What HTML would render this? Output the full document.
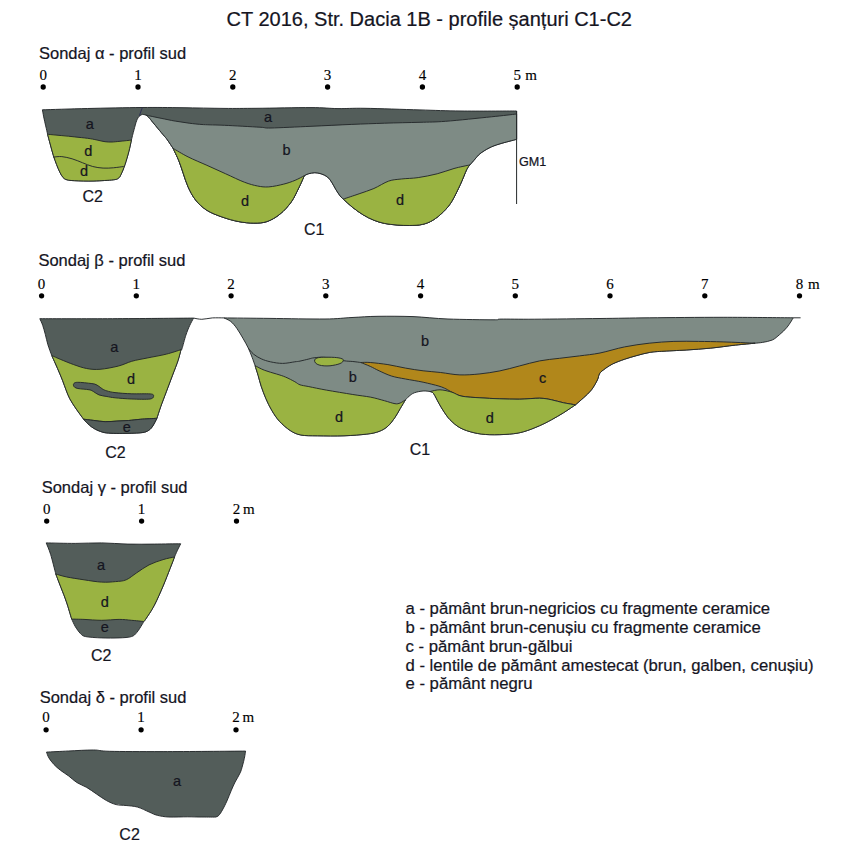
<!DOCTYPE html>
<html><head><meta charset="utf-8"><title>CT 2016 profile</title>
<style>html,body{margin:0;padding:0;background:#fff;} svg{display:block;} text{fill:#15151f;stroke:#15151f;stroke-width:0.22px;} .sf{font-family:"Liberation Serif","Times New Roman",serif;stroke-width:0.15px;fill:#000;stroke:#000;}</style></head>
<body><svg width="853" height="853" viewBox="0 0 853 853">
<rect width="853" height="853" fill="#fff"/>
<path d="M42.4,109.8 C49.9,109.6 71,108.9 87.6,108.5 C104.2,108.1 126.3,107.6 142,107.5 C157.7,107.4 168.3,107.5 182,107.7 C195.7,107.9 211.5,108.3 224,108.4 C236.5,108.5 242.5,108.4 257,108.3 C271.5,108.2 297.5,107.5 311,107.6 C324.5,107.6 329,108.5 338,108.6 C347,108.7 351.3,108.1 365,108.3 C378.7,108.5 404,109.5 420,109.9 C436,110.4 444.9,110.8 461,111 C477.1,111.2 507.3,111 516.6,111 L516.6,139.3 C513.8,140.1 504.6,142.4 500,143.8 C495.4,145.2 492.3,146.3 489,148 C485.7,149.7 482.3,151.9 480,153.7 C477.7,155.5 476.8,157.1 475.1,159 C473.4,160.9 470.8,163.9 469.9,164.9 C469.4,165.7 468.3,166.3 466.7,169.5 C465.1,172.7 462.9,179 460.4,184.3 C457.9,189.6 454.7,196.6 451.9,201.2 C449.1,205.8 446.7,208.5 443.5,211.7 C440.3,214.9 436.4,218.1 432.9,220.2 C429.4,222.3 426.3,223.5 422.4,224.4 C418.5,225.3 413.9,225.4 409.7,225.5 C405.5,225.6 401.3,225.3 397.1,225 C392.9,224.7 388.3,224.2 384.4,223.4 C380.5,222.6 377.4,221.6 373.9,220.2 C370.4,218.8 366.8,217 363.3,214.9 C359.8,212.8 356.1,210.1 352.8,207.5 C349.5,204.9 344.9,200.5 343.3,199.1 C342.8,198.6 341.3,197.5 340.1,195.9 C338.9,194.3 337.3,191.9 335.9,189.6 C334.5,187.3 333.1,184.3 331.7,182.2 C330.3,180.1 329.2,178.3 327.4,176.9 C325.6,175.5 323.2,174.5 321.1,173.8 C319,173.1 316.9,172.7 314.8,172.7 C312.7,172.7 310.1,173.3 308.4,173.8 C306.6,174.3 305,175.4 304.3,175.7 C303.4,177.7 301,183.4 298.8,187.8 C296.6,192.2 294.4,197.5 291.3,201.9 C288.2,206.3 284.1,210.8 280,214.1 C275.9,217.4 271.3,220.1 266.9,221.6 C262.5,223.1 258.5,223.1 253.8,223.1 C249.1,223.1 244.1,222.6 238.8,221.6 C233.5,220.6 227.2,218.8 221.9,216.9 C216.6,215 211.3,213.1 206.9,210.3 C202.5,207.5 198.7,203.9 195.6,200 C192.5,196.1 190.1,191.3 188.1,186.9 C186.1,182.5 184.9,178.2 183.4,173.8 C181.9,169.4 180.5,164.8 178.8,160.6 C177.1,156.4 174.1,150.4 173.1,148.4 C172.2,147 168.9,142 167.5,140 C166.1,138 166.1,138.2 164.5,136.3 C162.9,134.4 160,131 158.1,128.7 C156.2,126.4 154.4,124.2 152.8,122.3 C151.2,120.4 149.9,118.4 148.7,117.2 C147.5,116 146.9,115.6 145.8,115.1 C144.7,114.6 142.9,114.5 142.3,114.4 C141.8,114.7 140.1,115.2 139.2,116.3 C138.2,117.4 137.5,118.5 136.6,120.8 C135.7,123 134.9,126.6 134,129.8 C133.1,133 131.8,138.4 131.4,140.1 C131,142 129.9,147.6 128.8,151.7 C127.7,155.8 126.3,160.8 125,164.6 C123.7,168.4 122.2,172.1 121.1,174.3 C120,176.6 119.8,177.2 118.5,178.1 C117.2,179 117.5,179.3 113.4,179.8 C109.3,180.3 100.5,180.8 94,181 C87.5,181.2 79.2,180.9 74.7,180.7 C70.2,180.5 68.9,180.3 67,179.8 C65.1,179.3 64.3,178.8 63.1,177.5 C61.9,176.2 61,174.5 59.9,172.3 C58.8,170.2 57.7,167.4 56.6,164.6 C55.5,161.8 54.5,159 53.4,155.6 C52.3,152.2 51.2,147.6 50.2,144 C49.2,140.4 48,135.9 47.6,134.3 C47.3,132.9 46.4,128.8 45.7,125.9 C45.1,123 44.2,119.6 43.7,116.9 C43.2,114.2 42.6,111 42.4,109.8 Z" fill="#535d5a" stroke="#25292b" stroke-width="0.95" stroke-linejoin="round"/>
<path d="M47.6,134.3 C50,134.5 57.3,135.2 61.8,135.6 C66.3,136 70.4,136.4 74.7,136.9 C79,137.4 83.9,137.8 87.6,138.3 C91.3,138.8 94.1,139.4 97,140 C99.9,140.6 102.5,141.4 105,141.7 C107.5,142 109.5,142.1 112,142 C114.5,141.9 116.8,141.6 120,141.3 C123.2,141 129.5,140.3 131.4,140.1 C131,142 129.9,147.6 128.8,151.7 C127.7,155.8 126.3,160.8 125,164.6 C123.7,168.4 122.2,172.1 121.1,174.3 C120,176.6 119.8,177.2 118.5,178.1 C117.2,179 117.5,179.3 113.4,179.8 C109.3,180.3 100.5,180.8 94,181 C87.5,181.2 79.2,180.9 74.7,180.7 C70.2,180.5 68.9,180.3 67,179.8 C65.1,179.3 64.3,178.8 63.1,177.5 C61.9,176.2 61,174.5 59.9,172.3 C58.8,170.2 57.7,167.4 56.6,164.6 C55.5,161.8 54.5,159 53.4,155.6 C52.3,152.2 51.2,147.6 50.2,144 C49.2,140.4 48,135.9 47.6,134.3 Z" fill="#9ab342" stroke="#25292b" stroke-width="0.95" stroke-linejoin="round"/>
<path d="M53.4,157.1 C54.8,157 58.7,156.3 61.8,156.6 C64.9,156.9 68.7,157.8 72.1,158.8 C75.5,159.8 79,161.4 82.4,162.7 C85.8,164 89.2,165.6 92.7,166.5 C96.2,167.4 99.6,167.9 103.1,168.1 C106.5,168.3 110,168.1 113.4,167.8 C116.8,167.5 122,166.7 123.7,166.5" fill="none" stroke="#25292b" stroke-width="0.95" stroke-linejoin="round"/>
<path d="M142.3,107.7 L139.4,115.6" stroke="#2b2d55" stroke-width="0.9" fill="none"/>
<path d="M145.8,115.1 C146.5,115.2 147.4,115.5 150,116 C152.6,116.5 156.9,117.5 161.1,118.3 C165.3,119.1 170.5,120.3 175.2,121.1 C179.9,121.9 184.5,122.6 189.2,123.2 C193.9,123.8 197.4,124.2 203.3,124.6 C209.2,124.9 215,124.9 224.4,125.3 C233.8,125.7 252.2,126.8 260,127.2 C267.8,127.7 262.5,128.2 271,128 C279.5,127.8 297.5,126.9 311,126.3 C324.5,125.7 339.6,124.9 351.8,124.4 C364.1,123.9 373.1,123.6 384.5,123.2 C395.9,122.8 409.8,122.6 420,122.3 C430.2,122 433.8,122.2 445.7,121.3 C457.6,120.4 479.7,118 491.5,116.8 C503.3,115.6 512.4,114.5 516.6,114 L516.6,139.3 C513.8,140.1 504.6,142.4 500,143.8 C495.4,145.2 492.3,146.3 489,148 C485.7,149.7 482.3,151.9 480,153.7 C477.7,155.5 476.8,157.1 475.1,159 C473.4,160.9 470.8,163.9 469.9,164.9 C469.4,165.7 468.3,166.3 466.7,169.5 C465.1,172.7 462.9,179 460.4,184.3 C457.9,189.6 454.7,196.6 451.9,201.2 C449.1,205.8 446.7,208.5 443.5,211.7 C440.3,214.9 436.4,218.1 432.9,220.2 C429.4,222.3 426.3,223.5 422.4,224.4 C418.5,225.3 413.9,225.4 409.7,225.5 C405.5,225.6 401.3,225.3 397.1,225 C392.9,224.7 388.3,224.2 384.4,223.4 C380.5,222.6 377.4,221.6 373.9,220.2 C370.4,218.8 366.8,217 363.3,214.9 C359.8,212.8 356.1,210.1 352.8,207.5 C349.5,204.9 344.9,200.5 343.3,199.1 C342.8,198.6 341.3,197.5 340.1,195.9 C338.9,194.3 337.3,191.9 335.9,189.6 C334.5,187.3 333.1,184.3 331.7,182.2 C330.3,180.1 329.2,178.3 327.4,176.9 C325.6,175.5 323.2,174.5 321.1,173.8 C319,173.1 316.9,172.7 314.8,172.7 C312.7,172.7 310.1,173.3 308.4,173.8 C306.6,174.3 305,175.4 304.3,175.7 C303.4,177.7 301,183.4 298.8,187.8 C296.6,192.2 294.4,197.5 291.3,201.9 C288.2,206.3 284.1,210.8 280,214.1 C275.9,217.4 271.3,220.1 266.9,221.6 C262.5,223.1 258.5,223.1 253.8,223.1 C249.1,223.1 244.1,222.6 238.8,221.6 C233.5,220.6 227.2,218.8 221.9,216.9 C216.6,215 211.3,213.1 206.9,210.3 C202.5,207.5 198.7,203.9 195.6,200 C192.5,196.1 190.1,191.3 188.1,186.9 C186.1,182.5 184.9,178.2 183.4,173.8 C181.9,169.4 180.5,164.8 178.8,160.6 C177.1,156.4 174.1,150.4 173.1,148.4 C172.2,147 168.9,142 167.5,140 C166.1,138 166.1,138.2 164.5,136.3 C162.9,134.4 160,131 158.1,128.7 C156.2,126.4 154.4,124.2 152.8,122.3 C151.2,120.4 149.9,118.4 148.7,117.2 C147.5,116 146.3,115.4 145.8,115.1 Z" fill="#7e8b85" stroke="#25292b" stroke-width="0.95" stroke-linejoin="round"/>
<path d="M173.1,148.4 C175.6,149.8 182.5,154.1 188.1,156.9 C193.7,159.7 200.6,162.5 206.9,165.3 C213.2,168.1 219.4,171 225.7,173.8 C231.9,176.6 239.1,180.2 244.4,182.2 C249.7,184.2 253.4,185.2 257.5,186 C261.6,186.8 264.4,187.2 268.8,186.9 C273.2,186.6 279.4,185.2 283.8,184.1 C288.2,183 291.7,181.7 295.1,180.3 C298.5,178.9 302.8,176.5 304.3,175.7 C303.4,177.7 301,183.4 298.8,187.8 C296.6,192.2 294.4,197.5 291.3,201.9 C288.2,206.3 284.1,210.8 280,214.1 C275.9,217.4 271.3,220.1 266.9,221.6 C262.5,223.1 258.5,223.1 253.8,223.1 C249.1,223.1 244.1,222.6 238.8,221.6 C233.5,220.6 227.2,218.8 221.9,216.9 C216.6,215 211.3,213.1 206.9,210.3 C202.5,207.5 198.7,203.9 195.6,200 C192.5,196.1 190.1,191.3 188.1,186.9 C186.1,182.5 184.9,178.2 183.4,173.8 C181.9,169.4 180.5,164.8 178.8,160.6 C177.1,156.4 174.1,150.4 173.1,148.4 Z" fill="#9ab342" stroke="#25292b" stroke-width="0.95" stroke-linejoin="round"/>
<path d="M343.3,199.1 C345.9,198.2 354,195.6 359.1,193.8 C364.2,192 369,190.6 373.9,188.5 C378.8,186.4 384,182.7 388.6,181.1 C393.2,179.5 396.4,179.6 401.3,179 C406.2,178.4 412.2,178.5 418.2,177.6 C424.2,176.7 431.2,175.3 437.2,173.8 C443.2,172.3 448.6,170 454,168.5 C459.4,167 467.2,165.5 469.9,164.9 C469.4,165.7 468.3,166.3 466.7,169.5 C465.1,172.7 462.9,179 460.4,184.3 C457.9,189.6 454.7,196.6 451.9,201.2 C449.1,205.8 446.7,208.5 443.5,211.7 C440.3,214.9 436.4,218.1 432.9,220.2 C429.4,222.3 426.3,223.5 422.4,224.4 C418.5,225.3 413.9,225.4 409.7,225.5 C405.5,225.6 401.3,225.3 397.1,225 C392.9,224.7 388.3,224.2 384.4,223.4 C380.5,222.6 377.4,221.6 373.9,220.2 C370.4,218.8 366.8,217 363.3,214.9 C359.8,212.8 356.1,210.1 352.8,207.5 C349.5,204.9 344.9,200.5 343.3,199.1 Z" fill="#9ab342" stroke="#25292b" stroke-width="0.95" stroke-linejoin="round"/>
<path d="M516.6,111 L516.6,204" stroke="#25292b" stroke-width="1" fill="none"/>
<path d="M39.8,318.7 C51.9,318.7 86.8,318.8 112.4,318.7 C138,318.6 180.1,318.2 193.6,318.1 C192.9,319.3 191,322.7 189.7,325.5 C188.4,328.3 187.2,331.2 185.9,335.1 C184.6,339 182.8,346.3 182,348.7 C181.2,351.1 181.2,349.5 181,349.7 C180.5,351.5 179.5,355.9 178.1,360.3 C176.7,364.7 174.2,370.7 172.3,375.8 C170.4,380.9 168.4,386.1 166.5,391.2 C164.6,396.3 162.3,402.2 160.7,406.7 C159.1,411.2 157.5,416.4 156.9,418.3 C156.1,419.8 153.7,424.9 152.1,427 C150.5,429.1 149.4,430.1 147.4,431.1 C145.4,432.1 144.4,432.4 140.3,432.8 C136.2,433.2 127.7,433.3 122.8,433.4 C117.9,433.5 114.3,433.4 111,433.2 C107.7,433 105.7,433 102.8,432.2 C99.9,431.4 96.1,429.8 93.4,428.1 C90.7,426.5 88,423.8 86.4,422.3 C84.8,420.8 84.1,419.7 83.6,419.2 C82.4,417.5 78.6,412.5 76.3,409.1 C74,405.7 71.5,402 69.8,398.8 C68.1,395.6 67.2,392.8 66,389.8 C64.8,386.8 63.8,383.6 62.7,380.8 C61.6,378 60.7,375.8 59.5,373 C58.3,370.2 56.9,366.9 55.6,364 C54.3,361.1 52.4,357 51.8,355.6 C51.1,353.8 49,348.2 47.9,344.7 C46.8,341.1 46.2,337.5 45.3,334.3 C44.4,331.1 43.6,327.9 42.7,325.3 C41.8,322.7 40.3,319.8 39.8,318.7 Z" fill="#535d5a" stroke="#25292b" stroke-width="0.95" stroke-linejoin="round"/>
<path d="M51.8,355.6 C53.3,356.2 57.1,358 60.8,359.5 C64.5,361 69.4,363.1 73.7,364.6 C78,366.1 82.2,367.7 86.6,368.5 C91,369.3 94.7,369.7 100,369.3 C105.3,368.9 112.9,367.4 118.2,366.1 C123.5,364.8 126.9,362.7 131.7,361.3 C136.5,359.9 141.4,359.2 147.2,358 C153,356.8 160.9,355.5 166.5,354.1 C172.1,352.7 178.6,350.4 181,349.7 C180.5,351.5 179.5,355.9 178.1,360.3 C176.7,364.7 174.2,370.7 172.3,375.8 C170.4,380.9 168.4,386.1 166.5,391.2 C164.6,396.3 162.3,402.2 160.7,406.7 C159.1,411.2 157.5,416.4 156.9,418.3 C154.1,418.5 145,418.9 140.3,419.3 C135.6,419.7 132.5,420.2 128.6,420.5 C124.7,420.8 120.8,420.9 116.9,421.1 C113,421.3 109.1,421.8 105.2,421.7 C101.3,421.6 97,420.8 93.4,420.4 C89.8,420 85.2,419.4 83.6,419.2 C82.4,417.5 78.6,412.5 76.3,409.1 C74,405.7 71.5,402 69.8,398.8 C68.1,395.6 67.2,392.8 66,389.8 C64.8,386.8 63.8,383.6 62.7,380.8 C61.6,378 60.7,375.8 59.5,373 C58.3,370.2 56.9,366.9 55.6,364 C54.3,361.1 52.4,357 51.8,355.6 Z" fill="#9ab342" stroke="#25292b" stroke-width="0.95" stroke-linejoin="round"/>
<path d="M83.6,419.2 C85.2,419.4 89.8,420 93.4,420.4 C97,420.8 101.3,421.6 105.2,421.7 C109.1,421.8 113,421.3 116.9,421.1 C120.8,420.9 124.7,420.8 128.6,420.5 C132.5,420.2 135.6,419.7 140.3,419.3 C145,418.9 154.1,418.5 156.9,418.3 C156.1,419.8 153.7,424.9 152.1,427 C150.5,429.1 149.4,430.1 147.4,431.1 C145.4,432.1 144.4,432.4 140.3,432.8 C136.2,433.2 127.7,433.3 122.8,433.4 C117.9,433.5 114.3,433.4 111,433.2 C107.7,433 105.7,433 102.8,432.2 C99.9,431.4 96.1,429.8 93.4,428.1 C90.7,426.5 88,423.8 86.4,422.3 C84.8,420.8 84.1,419.7 83.6,419.2 Z" fill="#535d5a" stroke="#25292b" stroke-width="0.95" stroke-linejoin="round"/>
<path d="M73.4,384.6 C73.5,383.8 74.1,383 75.3,382.6 C76.5,382.2 78.3,382.3 80.5,382.4 C82.7,382.5 86.1,382.9 88.5,383.2 C90.9,383.5 93,383.6 94.8,384.1 C96.5,384.6 97.7,385.6 99,386.4 C100.3,387.2 101.4,388.4 102.7,389.1 C104,389.9 104.9,390.3 106.9,390.9 C109,391.5 110.8,392.1 115,392.6 C119.2,393.1 126,393.6 131.8,393.8 C137.6,394 146.4,393.6 150,393.9 C153.6,394.2 153.6,394.9 153.6,395.8 C153.6,396.7 153.6,398.5 150,399 C146.4,399.5 137.6,399.2 131.8,399 C126,398.8 119.2,398.2 115.1,397.8 C110.9,397.4 109.6,397 106.9,396.5 C104.2,396 101.2,395.7 99,394.9 C96.8,394.1 95.2,392.5 93.7,391.7 C92.2,390.9 91.8,390.3 90,389.9 C88.2,389.5 85.2,389.3 83.2,389.1 C81.2,388.9 79.3,388.8 77.9,388.5 C76.5,388.2 75.3,387.8 74.6,387.2 C73.8,386.6 73.3,385.4 73.4,384.6 Z" fill="#535d5a" stroke="#25292b" stroke-width="0.95"/>
<path d="M193.6,318.1 C195,318.3 198.7,319.3 201.8,319.3 C204.9,319.3 208.7,318.1 212.4,317.9 C216.1,317.7 222,317.9 223.9,317.9" fill="none" stroke="#25292b" stroke-width="0.95" stroke-linejoin="round"/>
<path d="M223.9,317.9 C231.6,318 253.2,318.2 270,318.4 C286.9,318.6 311.3,319.1 325,319 C338.7,318.9 343.2,317.9 352,317.5 C360.8,317.1 367.8,316.4 378,316.3 C388.2,316.2 401.3,316.2 413,316.6 C424.7,317.1 434.5,318.5 448,319 C461.5,319.5 485.2,319.8 494,319.8 C502.8,319.8 494.2,319.2 501,319.1 C507.8,319 518.3,319.3 534.8,319.2 C551.3,319.1 580.9,318.7 600,318.5 C619.1,318.3 628.7,318 649.2,317.8 C669.7,317.6 699.1,317.3 723.1,317.3 C747.1,317.3 781.6,317.7 793.3,317.8 C792.3,319.4 789.4,324.4 787.1,327.2 C784.8,330 782.2,332.4 779.7,334.5 C777.2,336.6 775.2,338.7 772.3,340 C769.4,341.3 765.4,341.9 762.5,342.4 C759.6,342.9 756.3,343.1 755.1,343.2 C751.8,343.5 742.8,344.3 735.4,345.1 C728,345.9 719,347.3 710.8,348.1 C702.6,348.9 694.4,349.5 686.2,350 C678,350.5 667.7,350.9 661.5,351.3 C655.3,351.7 653.3,351.8 649.2,352.5 C645.1,353.2 641,354.4 636.9,355.5 C632.8,356.6 628.7,357.8 624.6,359.2 C620.5,360.6 615.8,362.3 612.3,364.1 C608.8,365.9 605.5,368.3 603.4,369.9 C601.2,371.5 600.4,372.2 599.4,373.9 C598.4,375.6 598.7,377.2 597.4,379.9 C596.1,382.5 593.8,386.8 591.5,389.8 C589.2,392.8 586.2,395.3 583.5,397.8 C580.8,400.3 576.8,403.6 575.5,404.8 C573.5,406.1 567.6,410.2 563.6,412.7 C559.6,415.2 555.6,417.5 551.6,419.7 C547.6,421.9 544.2,423.7 539.6,425.7 C535,427.7 528.7,430.3 523.7,431.7 C518.7,433.1 515.4,433.6 509.7,434.1 C504,434.6 495.8,434.9 489.8,434.7 C483.8,434.5 478.9,433.9 473.9,432.7 C468.9,431.5 463.9,429.9 459.9,427.7 C455.9,425.5 452.6,422.3 450,419.7 C447.4,417.1 446.1,414.8 444.2,412.1 C442.3,409.4 440.7,406.4 438.9,403.3 C437.1,400.2 435.1,395.6 433.6,393.6 C432.1,391.6 430.7,391.9 430.1,391.5 C428.9,391.4 425.7,390.8 423.1,391 C420.5,391.2 416.7,391.9 414.3,392.8 C411.9,393.7 410.5,395.1 409,396.3 C407.5,397.5 406.1,399.2 405.5,399.8 C404.6,401.3 401.9,405.7 400.2,408.6 C398.4,411.5 397.1,414.5 395,417.4 C392.9,420.3 390.5,423.9 387.9,426.2 C385.2,428.5 382.6,430.1 379.1,431.4 C375.6,432.7 372.7,433.4 366.8,434.1 C360.9,434.8 352.2,435.5 344,435.8 C335.8,436.1 324.8,435.9 317.6,435.8 C310.4,435.7 305.5,435.9 300.9,435 C296.3,434.1 293.8,432.8 290.2,430.5 C286.6,428.2 282.6,424.6 279.5,421.3 C276.4,418 274.2,414.4 271.9,410.6 C269.6,406.8 267.6,402.5 265.8,398.4 C264,394.3 262.5,390 261.2,386.2 C259.9,382.4 259.2,379 258.2,375.6 C257.2,372.2 255.6,367.4 255.1,365.7 C254.6,364.3 253.2,360.2 252.1,357.3 C251,354.4 249.8,351.3 248.3,348.1 C246.8,344.9 244.8,341.5 242.9,338.2 C241,334.9 238.8,331.1 236.8,328.3 C234.8,325.5 232.8,323.1 230.7,321.4 C228.5,319.7 225,318.5 223.9,317.9 Z" fill="#7e8b85" stroke="#25292b" stroke-width="0.95" stroke-linejoin="round"/>
<path d="M248.3,348.1 C249.2,349.1 251.4,352.4 253.6,354.2 C255.8,356 258.4,357.5 261.2,358.8 C264,360.1 266.8,361 270.4,361.8 C274,362.6 278.5,363.4 282.6,363.4 C286.7,363.4 291.9,362.2 294.8,361.8 C297.7,361.4 297.7,361.6 300,361.1 C302.3,360.6 306.4,359.6 308.8,359 C311.2,358.4 311.4,358.1 314.1,357.8 C316.8,357.5 320.1,356.9 325,357.4 C329.9,357.9 339,360 343.6,360.7 C348.2,361.4 350,361.2 352.8,361.5 C355.6,361.8 359.4,362.3 360.7,362.5" fill="none" stroke="#25292b" stroke-width="0.95" stroke-linejoin="round"/>
<path d="M360.7,362.5 C362.3,362.5 365.8,362.1 370.3,362.5 C374.8,362.9 382,363.7 387.9,364.6 C393.8,365.5 399.6,367.1 405.5,368.1 C411.4,369.1 417.2,370.1 423.1,370.8 C429,371.5 434.6,371.8 440.7,372.5 C446.8,373.2 453.4,374.7 459.9,374.9 C466.4,375.1 473.2,374.6 479.9,373.9 C486.5,373.2 493.2,372.2 499.8,370.9 C506.4,369.6 513.1,367.6 519.7,365.9 C526.3,364.2 533,362.2 539.6,360.9 C546.2,359.6 553,359.1 559.6,358.3 C566.2,357.5 572.8,356.8 579.5,355.9 C586.2,355 592.5,354.5 600,353 C607.5,351.5 616.4,348.5 624.6,346.9 C632.8,345.3 641,344.1 649.2,343.2 C657.4,342.3 665.7,341.7 673.9,341.4 C682.1,341.1 690.3,341.3 698.5,341.4 C706.7,341.5 713.7,341.6 723.1,341.9 C732.5,342.2 749.8,343 755.1,343.2 C751.8,343.5 742.8,344.3 735.4,345.1 C728,345.9 719,347.3 710.8,348.1 C702.6,348.9 694.4,349.5 686.2,350 C678,350.5 667.7,350.9 661.5,351.3 C655.3,351.7 653.3,351.8 649.2,352.5 C645.1,353.2 641,354.4 636.9,355.5 C632.8,356.6 628.7,357.8 624.6,359.2 C620.5,360.6 615.8,362.3 612.3,364.1 C608.8,365.9 605.5,368.3 603.4,369.9 C601.2,371.5 600.4,372.2 599.4,373.9 C598.4,375.6 598.7,377.2 597.4,379.9 C596.1,382.5 593.8,386.8 591.5,389.8 C589.2,392.8 586.2,395.3 583.5,397.8 C580.8,400.3 576.8,403.6 575.5,404.8 C573.5,404.5 567.6,403.6 563.6,402.8 C559.6,402 555.6,400.6 551.6,399.8 C547.6,399 544.9,398.3 539.6,398.2 C534.3,398.1 526.3,399.1 519.7,399.2 C513.1,399.3 506.4,399 499.8,398.8 C493.2,398.6 486.2,398.2 479.9,397.8 C473.6,397.4 466.5,397.1 461.9,396.2 C457.2,395.3 454.6,393.4 452,392.2 C449.4,391 448.2,389.9 446,388.9 C443.8,387.9 442.7,387.2 438.9,386.1 C435.1,385 428.7,383.4 423.1,382.2 C417.5,381 410.8,380 405.5,379 C400.2,378 395.8,377.4 391.4,376 C387,374.6 382.6,372.4 379.1,370.8 C375.6,369.2 373.4,367.8 370.3,366.4 C367.2,365 362.3,363.1 360.7,362.5 Z" fill="#b1871b" stroke="#25292b" stroke-width="0.95" stroke-linejoin="round"/>
<path d="M255.1,365.7 C256.6,366.4 260.7,368.8 264.3,370.2 C267.9,371.6 272.9,372.9 276.5,374 C280.1,375.1 282.6,375.8 285.6,377.1 C288.7,378.4 292.4,380.4 294.8,381.7 C297.2,383 297.7,384 300,384.8 C302.3,385.6 304.4,385.7 308.8,386.6 C313.2,387.5 319.1,388.8 326.4,390.1 C333.7,391.4 345.5,393.3 352.8,394.5 C360.1,395.7 365,396.1 370.3,397.1 C375.6,398.1 380.3,399.6 384.4,400.7 C388.5,401.8 392.4,403.3 395,403.7 C397.6,404.1 398.4,403.6 400.2,403 C401.9,402.4 404.6,400.3 405.5,399.8 C404.6,401.3 401.9,405.7 400.2,408.6 C398.4,411.5 397.1,414.5 395,417.4 C392.9,420.3 390.5,423.9 387.9,426.2 C385.2,428.5 382.6,430.1 379.1,431.4 C375.6,432.7 372.7,433.4 366.8,434.1 C360.9,434.8 352.2,435.5 344,435.8 C335.8,436.1 324.8,435.9 317.6,435.8 C310.4,435.7 305.5,435.9 300.9,435 C296.3,434.1 293.8,432.8 290.2,430.5 C286.6,428.2 282.6,424.6 279.5,421.3 C276.4,418 274.2,414.4 271.9,410.6 C269.6,406.8 267.6,402.5 265.8,398.4 C264,394.3 262.5,390 261.2,386.2 C259.9,382.4 259.2,379 258.2,375.6 C257.2,372.2 255.6,367.4 255.1,365.7 Z" fill="#9ab342" stroke="#25292b" stroke-width="0.95" stroke-linejoin="round"/>
<path d="M430.1,391.5 C431.8,391.2 436.4,389.7 440,389.8 C443.6,389.9 448.4,391.1 452,392.2 C455.6,393.3 457.2,395.3 461.9,396.2 C466.5,397.1 473.6,397.4 479.9,397.8 C486.2,398.2 493.2,398.6 499.8,398.8 C506.4,399 513.1,399.3 519.7,399.2 C526.3,399.1 534.3,398.1 539.6,398.2 C544.9,398.3 547.6,399 551.6,399.8 C555.6,400.6 559.6,402 563.6,402.8 C567.6,403.6 573.5,404.5 575.5,404.8 C573.5,406.1 567.6,410.2 563.6,412.7 C559.6,415.2 555.6,417.5 551.6,419.7 C547.6,421.9 544.2,423.7 539.6,425.7 C535,427.7 528.7,430.3 523.7,431.7 C518.7,433.1 515.4,433.6 509.7,434.1 C504,434.6 495.8,434.9 489.8,434.7 C483.8,434.5 478.9,433.9 473.9,432.7 C468.9,431.5 463.9,429.9 459.9,427.7 C455.9,425.5 452.6,422.3 450,419.7 C447.4,417.1 446.1,414.8 444.2,412.1 C442.3,409.4 440.7,406.4 438.9,403.3 C437.1,400.2 435.1,395.6 433.6,393.6 C432.1,391.6 430.7,391.9 430.1,391.5 Z" fill="#9ab342" stroke="#25292b" stroke-width="0.95" stroke-linejoin="round"/>
<path d="M314.6,360 C315.5,357.5 320,357.2 326,357.2 C334,357.2 341,357.5 343.3,359.6 C344,363 338,364.8 330,365.8 C322,366.4 314,365 314.6,360 Z" fill="#9ab342" stroke="#25292b" stroke-width="0.95"/>
<path d="M793.3,317.8 L800.6,317.8" stroke="#25292b" stroke-width="0.95"/>
<path d="M46.2,542.9 C51,543 66,543.4 75.2,543.4 C84.4,543.4 92.7,542.8 101.5,542.9 C110.3,543 119.1,543.9 127.9,544.1 C136.7,544.3 145.5,544.2 154.3,544.1 C163.1,544 176.3,543.8 180.7,543.8 C180.1,545 178.2,548.6 177.2,550.8 C176.2,553 174.9,556 174.5,557 C173.8,558.9 172,563.6 170.1,568.4 C168.2,573.2 165.7,579.9 163.1,586 C160.5,592.1 157.2,599.7 154.3,605.3 C151.4,610.9 147.3,616.7 145.5,619.4 C143.7,622.1 144,621.1 143.7,621.5 C143.4,622 143.2,622.9 142,624.7 C140.8,626.6 138.5,630.6 136.7,632.6 C134.9,634.6 134.3,635.7 131.4,636.6 C128.5,637.5 124.1,637.7 119.1,637.9 C114.1,638.1 107.1,638.1 101.5,637.9 C95.9,637.7 89.2,637.3 85.7,636.6 C82.2,635.9 82.2,635.2 80.4,633.5 C78.7,631.8 76.7,628.8 75.2,626.4 C73.8,624 72.3,620.3 71.7,619.1 C70.8,616.2 68.2,607 66.4,601.8 C64.6,596.6 62.9,592.4 61.1,587.8 C59.3,583.2 56.7,576.3 55.8,574 C54.9,570.7 52.2,559.5 50.6,554.3 C49,549.1 46.9,544.8 46.2,542.9 Z" fill="#535d5a" stroke="#25292b" stroke-width="0.95" stroke-linejoin="round"/>
<path d="M55.8,574 C57.6,574.5 61.7,575.9 66.4,576.9 C71.1,577.9 78.2,578.9 84,579.8 C89.8,580.7 96.2,581.8 101.5,582.1 C106.8,582.4 111.5,582 115.6,581.6 C119.7,581.2 122.7,581.3 126.2,579.8 C129.7,578.3 132.9,575.3 136.7,572.8 C140.5,570.3 144.6,567.1 149,564.9 C153.4,562.7 158.8,560.9 163.1,559.6 C167.3,558.3 172.6,557.4 174.5,557 C173.8,558.9 172,563.6 170.1,568.4 C168.2,573.2 165.7,579.9 163.1,586 C160.5,592.1 157.2,599.7 154.3,605.3 C151.4,610.9 147.3,616.7 145.5,619.4 C143.7,622.1 144,621.1 143.7,621.5 C141.6,621.3 135.5,620.6 131.4,620.3 C127.3,619.9 124.1,619.4 119.1,619.4 C114.1,619.4 107.3,620.3 101.5,620.3 C95.7,620.3 89,619.6 84,619.4 C79,619.2 73.8,619.1 71.7,619.1 C70.8,616.2 68.2,607 66.4,601.8 C64.6,596.6 62.9,592.4 61.1,587.8 C59.3,583.2 56.7,576.3 55.8,574 Z" fill="#9ab342" stroke="#25292b" stroke-width="0.95" stroke-linejoin="round"/>
<path d="M46.5,752.1 C50.2,751.9 60.8,751.4 68.6,751 C76.4,750.6 86.4,750 93.3,750 C100.2,750 98.1,751 109.7,751.3 C121.3,751.6 140.4,751.6 163.1,751.6 C185.8,751.6 231.8,751.2 245.6,751.1 C245.4,752.1 245,755 244.6,757 C244.2,759 243.9,760.5 243.2,763 C242.5,765.5 241.8,768.9 240.5,772.1 C239.2,775.3 236.6,779 235.1,782 C233.6,785 232.8,786.9 231.4,790.1 C230,793.3 228.4,797.7 226.9,801 C225.4,804.3 223.8,807.6 222.4,810 C221.1,812.4 219.9,814.2 218.8,815.4 C217.7,816.6 216.1,816.8 215.6,817.1 C213,817.1 204.7,817 200,817 C195.3,817 192.9,816.8 187.7,816.8 C182.5,816.8 173.9,817.2 168.8,817 C163.7,816.8 160.6,816.1 157.3,815.3 C154,814.5 152.4,813.4 149.1,812 C145.8,810.6 141.4,808.2 137.6,807.1 C133.8,806 129.7,805.9 126.1,805.5 C122.5,805.1 119.5,805.4 116.2,804.6 C112.9,803.8 109.7,802.3 106.4,800.5 C103.1,798.7 99.8,796.2 96.5,794 C93.2,791.8 90,789.3 86.7,787.4 C83.4,785.5 79.8,784.4 76.8,782.5 C73.8,780.6 71.3,777.9 68.6,775.9 C65.9,773.9 62.8,772.1 60.4,770.2 C58,768.3 55.8,766.5 53.9,764.4 C52,762.3 50.1,759.9 48.9,757.9 C47.7,755.9 46.9,753.1 46.5,752.1 Z" fill="#535d5a" stroke="#25292b" stroke-width="0.95" stroke-linejoin="round"/>
<text x="226.6" y="25.8" font-size="20" text-anchor="start" font-family='"Liberation Sans", Arial, sans-serif'>CT 2016, Str. Dacia 1B - profile șanțuri C1-C2</text>
<text x="39" y="59.2" font-size="16.5" text-anchor="start" font-family='"Liberation Sans", Arial, sans-serif'>Sondaj α - profil sud</text>
<text x="38.4" y="265.6" font-size="16.5" text-anchor="start" font-family='"Liberation Sans", Arial, sans-serif'>Sondaj β - profil sud</text>
<text x="41.7" y="492.5" font-size="16.5" text-anchor="start" font-family='"Liberation Sans", Arial, sans-serif'>Sondaj γ - profil sud</text>
<text x="39.7" y="702.8" font-size="16.5" text-anchor="start" font-family='"Liberation Sans", Arial, sans-serif'>Sondaj δ - profil sud</text>
<text x="43.2" y="80.4" font-size="15" text-anchor="middle" class="sf">0</text>
<circle cx="43.2" cy="87" r="2.65" fill="#000"/>
<text x="138" y="80.4" font-size="15" text-anchor="middle" class="sf">1</text>
<circle cx="138" cy="87" r="2.65" fill="#000"/>
<text x="232.8" y="80.4" font-size="15" text-anchor="middle" class="sf">2</text>
<circle cx="232.8" cy="87" r="2.65" fill="#000"/>
<text x="327.6" y="80.4" font-size="15" text-anchor="middle" class="sf">3</text>
<circle cx="327.6" cy="87" r="2.65" fill="#000"/>
<text x="422.4" y="80.4" font-size="15" text-anchor="middle" class="sf">4</text>
<circle cx="422.4" cy="87" r="2.65" fill="#000"/>
<text x="517.2" y="80.4" font-size="15" text-anchor="middle" class="sf">5</text>
<circle cx="517.2" cy="87" r="2.65" fill="#000"/>
<text x="525.3" y="80.4" font-size="15" class="sf">m</text>
<text x="41.6" y="289.4" font-size="15" text-anchor="middle" class="sf">0</text>
<circle cx="41.6" cy="295.8" r="2.65" fill="#000"/>
<text x="136.3" y="289.4" font-size="15" text-anchor="middle" class="sf">1</text>
<circle cx="136.3" cy="295.8" r="2.65" fill="#000"/>
<text x="231.1" y="289.4" font-size="15" text-anchor="middle" class="sf">2</text>
<circle cx="231.1" cy="295.8" r="2.65" fill="#000"/>
<text x="325.8" y="289.4" font-size="15" text-anchor="middle" class="sf">3</text>
<circle cx="325.8" cy="295.8" r="2.65" fill="#000"/>
<text x="420.6" y="289.4" font-size="15" text-anchor="middle" class="sf">4</text>
<circle cx="420.6" cy="295.8" r="2.65" fill="#000"/>
<text x="515.3" y="289.4" font-size="15" text-anchor="middle" class="sf">5</text>
<circle cx="515.3" cy="295.8" r="2.65" fill="#000"/>
<text x="610" y="289.4" font-size="15" text-anchor="middle" class="sf">6</text>
<circle cx="610" cy="295.8" r="2.65" fill="#000"/>
<text x="704.8" y="289.4" font-size="15" text-anchor="middle" class="sf">7</text>
<circle cx="704.8" cy="295.8" r="2.65" fill="#000"/>
<text x="799.5" y="289.4" font-size="15" text-anchor="middle" class="sf">8</text>
<circle cx="799.5" cy="295.8" r="2.65" fill="#000"/>
<text x="807.9" y="289.4" font-size="15" class="sf">m</text>
<text x="46.7" y="514" font-size="15" text-anchor="middle" class="sf">0</text>
<circle cx="46.7" cy="521.1" r="2.65" fill="#000"/>
<text x="141.6" y="514" font-size="15" text-anchor="middle" class="sf">1</text>
<circle cx="141.6" cy="521.1" r="2.65" fill="#000"/>
<text x="236.5" y="514" font-size="15" text-anchor="middle" class="sf">2</text>
<circle cx="236.5" cy="521.1" r="2.65" fill="#000"/>
<text x="242.9" y="514" font-size="15" class="sf">m</text>
<text x="46.1" y="722.4" font-size="15" text-anchor="middle" class="sf">0</text>
<circle cx="46.1" cy="729.8" r="2.65" fill="#000"/>
<text x="141.1" y="722.4" font-size="15" text-anchor="middle" class="sf">1</text>
<circle cx="141.1" cy="729.8" r="2.65" fill="#000"/>
<text x="236" y="722.4" font-size="15" text-anchor="middle" class="sf">2</text>
<circle cx="236" cy="729.8" r="2.65" fill="#000"/>
<text x="242.4" y="722.4" font-size="15" class="sf">m</text>
<text x="89.7" y="128.8" font-size="14.5" text-anchor="middle" font-family='"Liberation Sans", Arial, sans-serif'>a</text>
<text x="88.2" y="156.3" font-size="14.5" text-anchor="middle" font-family='"Liberation Sans", Arial, sans-serif'>d</text>
<text x="84.1" y="175.5" font-size="14.5" text-anchor="middle" font-family='"Liberation Sans", Arial, sans-serif'>d</text>
<text x="268" y="122.2" font-size="14.5" text-anchor="middle" font-family='"Liberation Sans", Arial, sans-serif'>a</text>
<text x="286.6" y="154.6" font-size="14.5" text-anchor="middle" font-family='"Liberation Sans", Arial, sans-serif'>b</text>
<text x="245" y="206.2" font-size="14.5" text-anchor="middle" font-family='"Liberation Sans", Arial, sans-serif'>d</text>
<text x="400" y="204.8" font-size="14.5" text-anchor="middle" font-family='"Liberation Sans", Arial, sans-serif'>d</text>
<text x="114.3" y="352.2" font-size="14.5" text-anchor="middle" font-family='"Liberation Sans", Arial, sans-serif'>a</text>
<text x="131.1" y="384.3" font-size="14.5" text-anchor="middle" font-family='"Liberation Sans", Arial, sans-serif'>d</text>
<text x="126.9" y="432.3" font-size="14.5" text-anchor="middle" font-family='"Liberation Sans", Arial, sans-serif'>e</text>
<text x="352.8" y="382.1" font-size="14.5" text-anchor="middle" font-family='"Liberation Sans", Arial, sans-serif'>b</text>
<text x="339" y="422.1" font-size="14.5" text-anchor="middle" font-family='"Liberation Sans", Arial, sans-serif'>d</text>
<text x="425.1" y="345.8" font-size="14.5" text-anchor="middle" font-family='"Liberation Sans", Arial, sans-serif'>b</text>
<text x="542.6" y="382.7" font-size="14.5" text-anchor="middle" font-family='"Liberation Sans", Arial, sans-serif'>c</text>
<text x="489.8" y="422.9" font-size="14.5" text-anchor="middle" font-family='"Liberation Sans", Arial, sans-serif'>d</text>
<text x="101" y="570" font-size="14.5" text-anchor="middle" font-family='"Liberation Sans", Arial, sans-serif'>a</text>
<text x="104.7" y="607" font-size="14.5" text-anchor="middle" font-family='"Liberation Sans", Arial, sans-serif'>d</text>
<text x="104.7" y="631.5" font-size="14.5" text-anchor="middle" font-family='"Liberation Sans", Arial, sans-serif'>e</text>
<text x="177.1" y="786" font-size="14.5" text-anchor="middle" font-family='"Liberation Sans", Arial, sans-serif'>a</text>
<text x="92.7" y="201.6" font-size="16" text-anchor="middle" font-family='"Liberation Sans", Arial, sans-serif'>C2</text>
<text x="314.3" y="234.6" font-size="16" text-anchor="middle" font-family='"Liberation Sans", Arial, sans-serif'>C1</text>
<text x="115.5" y="458" font-size="16" text-anchor="middle" font-family='"Liberation Sans", Arial, sans-serif'>C2</text>
<text x="420" y="455" font-size="16" text-anchor="middle" font-family='"Liberation Sans", Arial, sans-serif'>C1</text>
<text x="101.2" y="661" font-size="16" text-anchor="middle" font-family='"Liberation Sans", Arial, sans-serif'>C2</text>
<text x="129.6" y="839.7" font-size="16" text-anchor="middle" font-family='"Liberation Sans", Arial, sans-serif'>C2</text>
<text x="518.9" y="165.5" font-size="12.6" text-anchor="start" font-family='"Liberation Sans", Arial, sans-serif'>GM1</text>
<text x="405.5" y="614.4" font-size="16.7" text-anchor="start" font-family='"Liberation Sans", Arial, sans-serif'>a - pământ brun-negricios cu fragmente ceramice</text>
<text x="405.5" y="633.1" font-size="16.7" text-anchor="start" font-family='"Liberation Sans", Arial, sans-serif'>b - pământ brun-cenușiu cu fragmente ceramice</text>
<text x="405.5" y="651.8" font-size="16.7" text-anchor="start" font-family='"Liberation Sans", Arial, sans-serif'>c - pământ brun-gălbui</text>
<text x="405.5" y="670.6" font-size="16.7" text-anchor="start" font-family='"Liberation Sans", Arial, sans-serif'>d - lentile de pământ amestecat (brun, galben, cenușiu)</text>
<text x="405.5" y="689.3" font-size="16.7" text-anchor="start" font-family='"Liberation Sans", Arial, sans-serif'>e - pământ negru</text>
</svg></body></html>
